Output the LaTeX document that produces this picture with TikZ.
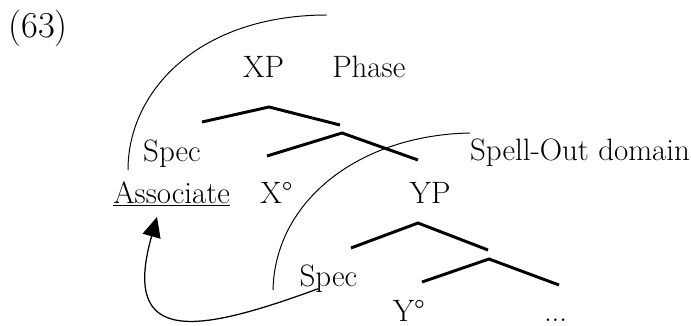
\documentclass[tikz,border=0pt]{standalone}
\usepackage{fontspec}
\usepackage{tikz}
\usetikzlibrary{arrows.meta}

\begin{document}
\begin{tikzpicture}[
  lbl/.style = {inner sep=0pt, anchor=base, font=\fontsize{22}{26}\selectfont},
  branch/.style = {line width=2.1pt},
  arc/.style = {line width=0.7pt},
  arr/.style = {-{Triangle[length=5mm,width=4.6mm]}, line width=0.9pt}
]
  \useasboundingbox (0,0) rectangle (17.275,-8.15);

  \node[lbl, font=\fontsize{26}{30}\selectfont] (num) at (0.95,-0.95) {(63)};
  \node[lbl] (xp)       at (6.59,-1.95)  {XP};
  \node[lbl] (phase)    at (9.22,-1.95)  {Phase};
  \node[lbl] (spec)     at (4.30,-4.03)  {Spec};
  \node[lbl] (spellout) at (14.50,-4.02) {Spell-Out domain};
  \node[lbl] (assoc)    at (4.29,-5.075) {\underline{Associate}};
  \node[lbl] (xhead)    at (6.91,-5.075) {X°};
  \node[lbl] (yp)       at (10.75,-5.075) {YP};
  \node[lbl] (specy)    at (8.21,-7.17)  {Spec};
  \node[lbl] (yhead)    at (10.22,-8.03) {Y°};
  \node[lbl] (rest)     at (13.89,-8.03) {...};

  % tree branches
  \draw[branch] (5.05,-3.05)  -- (6.725,-2.675) -- (8.5,-3.125);
  \draw[branch] (6.675,-3.9)  -- (8.55,-3.325)  -- (10.45,-4.0);
  \draw[branch] (8.775,-6.2)  -- (10.45,-5.575) -- (12.2,-6.25);
  \draw[branch] (10.55,-7.05) -- (12.225,-6.475) -- (13.975,-7.125);

  % phase and spell-out boundaries
  \draw[arc] (3.2,-4.25) .. controls (3.2,-2.25) and (5.0,-0.375) .. (8.175,-0.375);
  \draw[arc] (6.825,-7.25) .. controls (6.875,-5.0) and (9.0,-3.375) .. (11.75,-3.325);

  % movement of Spec to Associate
  \draw[arr] ([shift={(-0.26,-0.05)}]specy.base)
    .. controls (5.0,-8.3) and (3.0,-8.7) .. ([shift={(-0.365,-0.35)}]assoc.base);
\end{tikzpicture}
\end{document}
